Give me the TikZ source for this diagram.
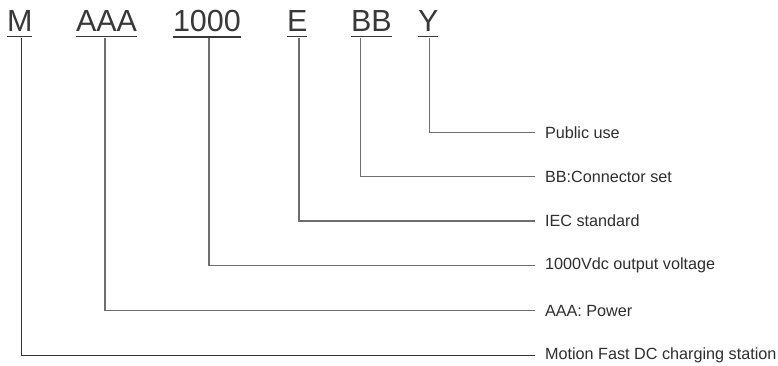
\documentclass[tikz,border=0pt]{standalone}
\usepackage{fontspec}
\setmainfont{Liberation Sans}
\definecolor{codegray}{HTML}{383838}
\definecolor{linegray}{HTML}{6E6E6E}
\definecolor{labelgray}{HTML}{2E2E2E}
\begin{document}
\begin{tikzpicture}[x=1bp,y=-1bp,
  code/.style={inner sep=0pt,outer sep=0pt,anchor=base west,text=codegray,
    font=\fontsize{30.5bp}{30bp}\selectfont},
  uline/.style={draw=codegray,line width=1.6bp},
  lbl/.style={inner sep=0pt,outer sep=0pt,anchor=west,text=labelgray,
    font=\fontsize{16.2bp}{18bp}\selectfont},
  conn/.style={draw=linegray,line width=1.2bp}]
\useasboundingbox (0,0) rectangle (778,365);

% type code segments
\node[code] (m)   at (7,31.5)   {M};
\node[code] (aaa) at (76,31.5)  {AAA};
\node[code] (v)   at (173,31.5) {1000};
\node[code] (e)   at (287,31.5) {E};
\node[code] (bb)  at (351,31.5) {BB};
\node[code] (y)   at (418,31.5) {Y};

\foreach \n in {m,aaa,v,e,bb,y}
  \draw[uline] ([yshift=-5bp]\n.south west) -- ([yshift=-5bp]\n.south east);

% descriptions
\node[lbl] (ly)   at (545,132.3) {Public use};
\node[lbl] (lbb)  at (545,176.7) {BB:Connector set};
\node[lbl] (le)   at (545,221)   {IEC standard};
\node[lbl] (lv)   at (545,265.6) {1000Vdc output voltage};
\node[lbl] (laaa) at (545,310.6) {AAA: Power};
\node[lbl] (lm)   at (545,355.6) {Motion Fast DC charging station};

% stem tops just below the underlines
\coordinate (sm)   at (21.7,38);
\coordinate (saaa) at (105,38);
\coordinate (sv)   at (209,38);
\coordinate (se)   at (299,38);
\coordinate (sbb)  at (360.7,38);
\coordinate (sy)   at (429.5,38);

\draw[conn] (sy)   |- ([xshift=-10bp]ly.west);
\draw[conn] (sbb)  |- ([xshift=-10bp]lbb.west);
\draw[conn] (se)   |- ([xshift=-10bp]le.west);
\draw[conn] (sv)   |- ([xshift=-10bp]lv.west);
\draw[conn] (saaa) |- ([xshift=-10bp]laaa.west);
\draw[conn,draw=black!80] (sm) |- ([xshift=-10bp]lm.west);
\end{tikzpicture}
\end{document}
